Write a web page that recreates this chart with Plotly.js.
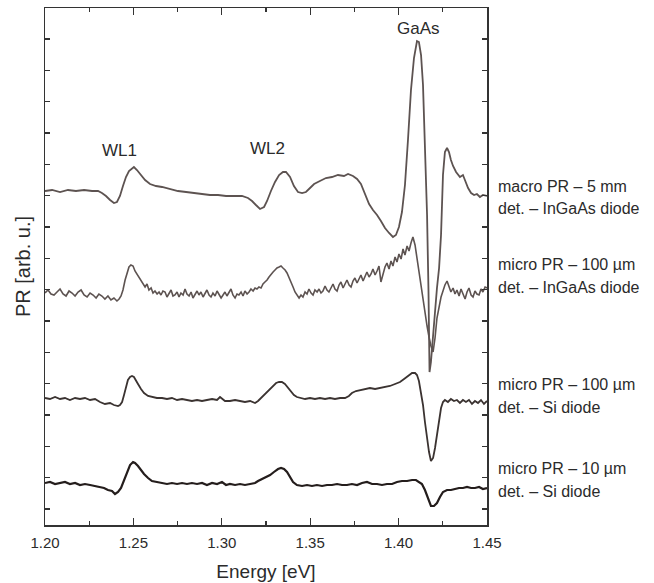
<!DOCTYPE html>
<html>
<head>
<meta charset="utf-8">
<script src="https://cdn.plot.ly/plotly-3.0.1.min.js"></script>
<style>html,body{margin:0;padding:0;background:#fff;}#chart{width:654px;height:583px;}</style>
</head>
<body>
<div id="chart"></div>
<script>
// ---- Data (energy in eV, PR in arbitrary units, curves offset) ----
const seriesNames = [
  "macro PR – 5 mm / det. – InGaAs diode",
  "micro PR – 100 µm / det. – InGaAs diode",
  "micro PR – 100 µm / det. – Si diode",
  "micro PR – 10 µm / det. – Si diode"
];

const energyMacro = [1.2000,1.2040,1.2085,1.2130,1.2175,1.2221,1.2266,1.2300,1.2322,1.2345,1.2368,1.2390,1.2407,1.2424,1.2441,1.2458,1.2475,1.2492,1.2503,1.2520,1.2543,1.2566,1.2594,1.2628,1.2662,1.2707,1.2752,1.2798,1.2843,1.2888,1.2933,1.2979,1.3024,1.3069,1.3114,1.3148,1.3171,1.3193,1.3216,1.3239,1.3256,1.3278,1.3301,1.3324,1.3346,1.3363,1.3386,1.3408,1.3431,1.3454,1.3476,1.3499,1.3522,1.3555,1.3589,1.3623,1.3657,1.3691,1.3714,1.3742,1.3765,1.3787,1.3810,1.3833,1.3855,1.3878,1.3900,1.3923,1.3946,1.3968,1.3985,1.4002,1.4019,1.4036,1.4053,1.4070,1.4087,1.4104,1.4115,1.4127,1.4138,1.4149,1.4161,1.4169,1.4175,1.4183,1.4195,1.4206,1.4217,1.4229,1.4240,1.4251,1.4262,1.4274,1.4285,1.4296,1.4308,1.4325,1.4347,1.4364,1.4376,1.4393,1.4410,1.4427,1.4443,1.4460,1.4477,1.4500];
const prMacro = [334,335,333,335,334,335,334,334,332,329,325,322,323,329,339,348,354,357,358,355,350,345,341,339,338,336,334,333,332,331,330,330,329,329,329,327,324,320,316,318,324,334,343,350,353,353,348,339,333,332,333,337,341,344,347,348,350,349,351,349,346,341,331,321,315,310,304,297,292,288,290,298,313,340,385,435,467,484,483,470,440,385,310,235,153,163,190,215,237,257,290,350,373,377,373,365,359,353,348,350,344,337,332,330,331,328,330,329];

const energyMicroInGaAs = [1.2000,1.2017,1.2034,1.2051,1.2068,1.2085,1.2102,1.2119,1.2136,1.2153,1.2170,1.2187,1.2204,1.2221,1.2238,1.2255,1.2272,1.2289,1.2305,1.2322,1.2339,1.2356,1.2373,1.2390,1.2407,
1.2419,1.2430,1.2441,1.2453,1.2464,1.2475,1.2486,1.2498,1.2509,1.2520,
1.2532,1.2543,1.2554,1.2566,1.2577,1.2588,1.2600,1.2611,1.2622,1.2634,
1.2645,1.2656,1.2667,1.2679,1.2690,1.2701,1.2713,1.2724,1.2735,1.2747,
1.2758,1.2769,1.2781,1.2792,1.2803,1.2815,1.2826,1.2837,1.2848,1.2860,
1.2871,1.2882,1.2894,1.2905,1.2916,1.2928,1.2939,1.2950,1.2962,1.2973,
1.2984,1.2996,1.3007,1.3018,1.3029,1.3041,1.3052,1.3063,1.3075,1.3086,
1.3097,1.3109,1.3120,1.3131,1.3143,1.3154,1.3165,1.3177,1.3188,1.3199,
1.3210,1.3222,1.3233,1.3244,1.3256,1.3267,1.3278,1.3290,1.3301,1.3312,
1.3324,1.3335,1.3346,1.3358,1.3369,1.3380,1.3391,1.3403,1.3414,1.3425,
1.3437,1.3448,1.3459,1.3471,1.3482,1.3493,1.3505,1.3516,1.3527,1.3539,
1.3550,1.3561,1.3572,1.3584,1.3595,1.3606,1.3618,1.3629,1.3640,1.3652,
1.3663,1.3674,1.3686,1.3697,1.3708,1.3720,1.3731,1.3742,1.3753,1.3765,
1.3776,1.3787,1.3799,1.3810,1.3821,1.3833,1.3844,1.3855,1.3867,1.3878,
1.3889,1.3900,1.3912,1.3923,1.3934,1.3946,1.3957,1.3968,1.3980,1.3991,
1.4002,1.4014,1.4025,1.4036,1.4048,1.4059,1.4070,1.4081,1.4093,1.4104,
1.4115,1.4127,1.4138,1.4149,1.4161,1.4172,1.4183,1.4195,1.4206,1.4217,
1.4229,1.4240,1.4251,1.4262,1.4274,1.4285,1.4296,1.4308,1.4319,1.4330,
1.4342,1.4353,1.4364,1.4376,1.4387,1.4398,1.4410,1.4421,1.4432,1.4443,
1.4455,1.4466,1.4477,1.4489,1.4500];
const prMicroInGaAs = [232,235,231,230,233,236,231,229,234,232,229,233,235,230,228,232,230,227,231,229,226,229,225,227,224,
226,229,235,245,253,258,260,259,254,251,
247,244,241,238,241,235,237,232,234,231,
233,230,234,233,228,231,235,229,230,233,
228,232,230,236,231,229,233,227,231,234,
230,233,228,232,235,230,228,232,229,234,
231,227,230,233,229,232,236,230,227,231,
230,233,229,234,231,233,236,234,237,236,
238,237,241,243,245,248,251,253,255,257,
258,259,257,255,252,248,243,238,233,230,
227,230,228,233,231,236,232,230,235,233,
236,232,234,239,235,233,238,241,236,234,
240,243,237,241,245,240,238,244,247,242,
246,250,244,249,253,248,251,256,250,254,
259,243,252,258,262,256,264,259,268,263,
271,266,276,270,279,274,282,288,280,267,
253,237,223,210,199,188,179,173,187,207,
220,228,234,240,244,238,233,237,231,235,
229,236,231,226,233,237,230,228,234,231,
230,236,233,238,237];

const energyMicroSi100 = [1.2000,1.2028,1.2057,1.2085,1.2113,1.2141,1.2170,1.2198,1.2226,1.2255,1.2283,1.2311,1.2339,1.2368,1.2390,1.2413,1.2424,1.2436,1.2447,1.2458,1.2469,1.2481,1.2492,1.2503,1.2515,1.2526,1.2543,1.2560,1.2583,1.2605,1.2633,1.2662,1.2690,1.2718,1.2747,1.2775,1.2803,1.2831,1.2860,1.2888,1.2916,1.2945,1.2973,1.2990,1.3018,1.3046,1.3075,1.3103,1.3131,1.3160,1.3188,1.3205,1.3222,1.3239,1.3256,1.3273,1.3290,1.3307,1.3324,1.3340,1.3357,1.3374,1.3391,1.3408,1.3425,1.3442,1.3471,1.3499,1.3527,1.3555,1.3584,1.3612,1.3640,1.3669,1.3697,1.3719,1.3736,1.3759,1.3782,1.3810,1.3838,1.3867,1.3895,1.3923,1.3951,1.3980,1.4008,1.4031,1.4053,1.4076,1.4093,1.4104,1.4115,1.4127,1.4138,1.4149,1.4161,1.4172,1.4183,1.4195,1.4206,1.4217,1.4229,1.4240,1.4251,1.4262,1.4279,1.4296,1.4313,1.4330,1.4347,1.4364,1.4381,1.4398,1.4415,1.4432,1.4449,1.4466,1.4483,1.4500];
const prMicroSi100 = [127,126,128,126,127,125,127,126,127,125,126,123,121,122,120,119,120,123,130,139,145,148,149,148,145,141,136,132,129,128,127,127,126,127,125,126,125,124,125,124,125,126,125,128,124,124,125,124,123,124,122,124,127,130,133,135,139,142,143,143,141,137,133,130,128,127,126,127,126,127,126,127,126,127,127,129,132,134,135,136,137,136,137,138,139,141,143,146,149,152,152,150,144,133,120,103,87,73,64,67,77,91,105,117,123,125,123,126,124,125,122,125,123,125,121,124,122,125,121,124];

const energyMicroSi10 = [1.2000,1.2028,1.2057,1.2085,1.2113,1.2141,1.2170,1.2198,1.2226,1.2255,1.2283,1.2311,1.2334,1.2356,1.2379,1.2396,1.2413,1.2430,1.2447,1.2464,1.2481,1.2498,1.2509,1.2526,1.2543,1.2560,1.2583,1.2605,1.2633,1.2662,1.2690,1.2718,1.2747,1.2775,1.2803,1.2831,1.2860,1.2888,1.2916,1.2945,1.2973,1.3001,1.3024,1.3046,1.3075,1.3103,1.3131,1.3160,1.3188,1.3205,1.3227,1.3250,1.3273,1.3295,1.3318,1.3335,1.3352,1.3369,1.3386,1.3403,1.3425,1.3454,1.3482,1.3510,1.3538,1.3567,1.3595,1.3623,1.3652,1.3680,1.3708,1.3736,1.3765,1.3793,1.3821,1.3850,1.3878,1.3906,1.3934,1.3963,1.3991,1.4019,1.4048,1.4076,1.4098,1.4115,1.4132,1.4149,1.4166,1.4183,1.4200,1.4217,1.4234,1.4251,1.4274,1.4296,1.4319,1.4342,1.4364,1.4387,1.4410,1.4432,1.4455,1.4477,1.4500];
const prMicroSi10 = [42,43,41,42,43,41,42,40,41,40,39,38,37,35,34,31,33,37,45,54,60,63,62,59,55,51,47,44,43,42,41,42,41,42,41,42,41,42,40,42,41,43,40,41,40,41,40,41,42,44,46,48,50,53,56,57,56,53,48,43,40,39,40,39,40,39,40,40,41,40,40,41,40,42,43,41,41,40,41,41,43,44,44,45,45,43,41,35,26,19,19,22,28,33,35,35,36,37,37,38,37,37,38,36,37];

const labelLines = [
  ["macro PR – 5 mm", "det. – InGaAs diode"],
  ["micro PR – 100 µm", "det. – InGaAs diode"],
  ["micro PR – 100 µm", "det. – Si diode"],
  ["micro PR – 10 µm", "det. – Si diode"]
];
const labelLevels = [[339,317],[261,238],[141,118],[57,34]];
const peakNames = ["WL1", "WL2", "GaAs"];
const peakEnergies = [1.2419, 1.3261, 1.4110];
const peakLevels = [375, 377, 497];

// ---- Drawing ----
const energies = [energyMacro, energyMicroInGaAs, energyMicroSi100, energyMicroSi10];
const prs = [prMacro, prMicroInGaAs, prMicroSi100, prMicroSi10];
const colors = ["#5d5351", "#5d5351", "#3b3331", "#241d1c"];
const widths = [1.8, 1.6, 1.8, 2.2];

const traces = energies.map((e, i) => ({
  type: "scatter", mode: "lines", x: e, y: prs[i], name: seriesNames[i],
  line: {color: colors[i], width: widths[i]}, hoverinfo: "skip"
}));

const font = "Liberation Sans, Arial, Helvetica, sans-serif";
const annotations = [];
labelLines.forEach((lines, i) => {
  lines.forEach((t, j) => {
    annotations.push({xref: "paper", yref: "y", x: 1.021, y: labelLevels[i][j], text: t,
      showarrow: false, xanchor: "left", yanchor: "middle", font: {family: font, size: 16, color: "#2b2b2b"}});
  });
});
peakNames.forEach((t, i) => {
  annotations.push({xref: "x", yref: "y", x: peakEnergies[i], y: peakLevels[i], text: t,
    showarrow: false, xanchor: "center", yanchor: "middle", font: {family: font, size: 17, color: "#2b2b2b"}});
});

const layout = {
  width: 654, height: 583,
  margin: {l: 45, r: 167, t: 8, b: 58},
  paper_bgcolor: "#ffffff", plot_bgcolor: "#ffffff",
  showlegend: false,
  font: {family: font, color: "#2b2b2b"},
  xaxis: {
    range: [1.2, 1.45], dtick: 0.05, tick0: 1.2, tickformat: ".2f",
    ticks: "inside", ticklen: 7, tickwidth: 1.3, tickcolor: "#333",
    minor: {ticks: "inside", dtick: 0.025, tick0: 1.2, ticklen: 4, tickwidth: 1.3, tickcolor: "#333"},
    showline: true, linecolor: "#333", linewidth: 1.5, mirror: "ticks",
    showgrid: false, zeroline: false,
    ticklabelstandoff: 3,
    tickfont: {family: font, size: 15, color: "#2b2b2b"},
    title: {text: "Energy [eV]", font: {family: font, size: 19, color: "#2b2b2b"}, standoff: 15}
  },
  yaxis: {
    range: [0, 517], tick0: 16, dtick: 31.33,
    ticks: "inside", ticklen: 5, tickwidth: 1.3, tickcolor: "#333",
    showticklabels: false,
    showline: true, linecolor: "#333", linewidth: 1.5, mirror: "ticks",
    showgrid: false, zeroline: false,
    title: {text: "PR [arb. u.]", font: {family: font, size: 20, color: "#2b2b2b"}, standoff: 7}
  },
  annotations: annotations
};

Plotly.newPlot("chart", traces, layout, {staticPlot: true, displayModeBar: false});
</script>
</body>
</html>
